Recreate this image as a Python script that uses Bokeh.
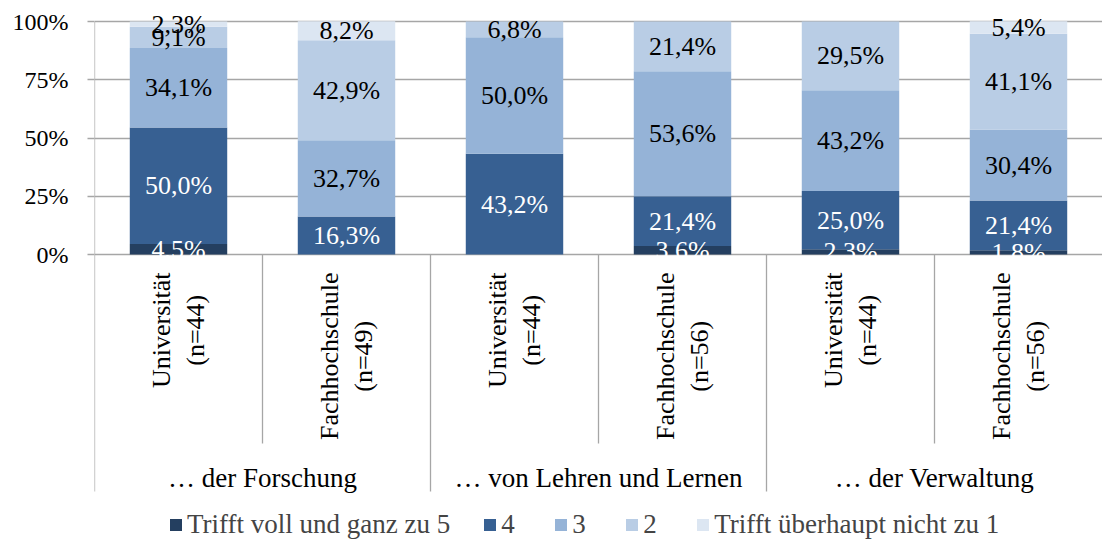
import math
from bokeh.plotting import figure
from bokeh.models import Range1d, FixedTicker, ColumnDataSource, Legend, LegendItem, PrintfTickFormatter
from bokeh.core.properties import value
from bokeh.embed import file_html
from bokeh.resources import INLINE

# ---------------- data ----------------
groups = ["… der Forschung", "… von Lehren und Lernen", "… der Verwaltung"]
types = ["Universität", "Fachhochschule"]
n_values = [44, 49, 44, 56, 44, 56]
s5 = [4.5, 0.0, 0.0, 3.6, 2.3, 1.8]
s4 = [50.0, 16.3, 43.2, 21.4, 25.0, 21.4]
s3 = [34.1, 32.7, 50.0, 53.6, 43.2, 30.4]
s2 = [9.1, 42.9, 6.8, 21.4, 29.5, 41.1]
s1 = [2.3, 8.2, 0.0, 0.0, 0.0, 5.4]
series_names = ["Trifft voll und ganz zu 5", "4", "3", "2", "Trifft überhaupt nicht zu 1"]
y_ticks = [0, 25, 50, 75, 100]

# ---------------- style ----------------
colors = ["#243F60", "#376092", "#95B3D7", "#B9CDE5", "#DCE6F2"]
label_colors = ["white", "white", "black", "black", "black"]
FONT = "Liberation Serif"
GRID = "#A6A6A6"

series = [s5, s4, s3, s2, s1]
keys = ["s5", "s4", "s3", "s2", "s1"]
xs = [i + 0.5 for i in range(len(n_values))]

src = ColumnDataSource(dict(x=xs, **{k: s for k, s in zip(keys, series)}))

# pixel mapping: y=100 -> 21 px, y=0 -> 254 px
H = 540
ppu = 2.33
y_top = 100 + 21 / ppu
y_bot = -(H - 254) / ppu

p = figure(width=1102, height=H, x_range=Range1d(0, 6), y_range=Range1d(y_bot, y_top),
           toolbar_location=None, output_backend="svg", x_axis_location=None,
           min_border_left=94, min_border_right=0, min_border_top=0, min_border_bottom=0)
p.outline_line_color = None
p.background_fill_color = "white"
p.xgrid.grid_line_color = None
p.ygrid.ticker = FixedTicker(ticks=y_ticks)
p.ygrid.grid_line_color = GRID
p.ygrid.grid_line_width = 1.3

ax = p.yaxis[0]
ax.ticker = FixedTicker(ticks=y_ticks)
ax.formatter = PrintfTickFormatter(format="%d%%")
ax.axis_line_color = None
ax.major_tick_line_color = GRID
ax.major_tick_line_width = 1.3
ax.major_tick_out = 7
ax.major_tick_in = 0
ax.minor_tick_line_color = None
ax.major_label_standoff = 19
ax.major_label_text_font = FONT
ax.major_label_text_font_size = "24px"
ax.major_label_text_color = "black"

renderers = p.vbar_stack(keys, x="x", width=0.58, source=src, color=colors, line_color=None)

# separators
sep_in_y = (254 - 443) / ppu
sep_out_y = (254 - 491) / ppu
p.segment(x0=[1, 3, 5], y0=[0, 0, 0], x1=[1, 3, 5], y1=[sep_in_y] * 3, line_color=GRID, line_width=1.3)
p.segment(x0=[0, 2, 4], y0=[0, 0, 0], x1=[0, 2, 4], y1=[sep_out_y] * 3, line_color=GRID, line_width=1.3)
p.segment(x0=[0], y0=[0], x1=[0], y1=[100], line_color=GRID, line_width=1.3)

# data labels
lx, ly, lt, lc = [], [], [], []
cum = [0.0] * len(xs)
for k, s in enumerate(series):
    for i, v in enumerate(s):
        if v > 0:
            lx.append(xs[i])
            ly.append(cum[i] + v / 2)
            lt.append(f"{v:.1f}%".replace(".", ","))
            lc.append(label_colors[k])
        cum[i] += v
p.text(x=lx, y=ly, text=lt, text_color=lc, text_font=value(FONT), text_font_size="26px",
       text_align="center", text_baseline="middle")

# category labels (rotated)
cat_text = [f"{types[i % 2]}\n(n={n})" for i, n in enumerate(n_values)]
p.text(x=xs, y=[(254 - 272) / ppu] * len(xs), text=cat_text, angle=math.pi / 2,
       anchor="center_right", text_align="center", text_baseline="middle",
       text_line_height=1.2, text_font=value(FONT), text_font_size="26px", text_color="black")

# group labels
p.text(x=[1, 3, 5], y=[(254 - 477) / ppu] * 3, text=groups, text_font=value(FONT),
       text_font_size="27px", text_align="center", text_baseline="middle", text_color="black")

legend = Legend(items=[LegendItem(label=n, renderers=[r]) for n, r in zip(series_names, renderers)],
                orientation="horizontal", location=(74, 0), glyph_width=15, glyph_height=15,
                label_standoff=4, spacing=32, padding=0, margin=0, border_line_color=None,
                background_fill_alpha=0, label_text_font=FONT, label_text_font_size="27px")
p.add_layout(legend)

open("out.html", "w").write(file_html(p, INLINE))
